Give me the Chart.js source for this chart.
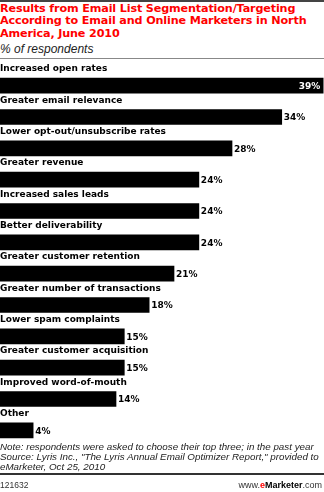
<!DOCTYPE html>
<html>
<head>
<meta charset="utf-8">
<script src="https://cdn.jsdelivr.net/npm/chart.js@4"></script>
<style>
    body { margin: 0; width: 324px; height: 492px; position: relative; background: #fff; overflow: hidden; }
    .topline { position: absolute; left: 0; top: 0; width: 324px; height: 2px; background: #444; }
    .title { position: absolute; left: 0; top: 3px; width: 324px; color: #f00; font: bold 11.2px "DejaVu Sans", sans-serif; line-height: 12.3px; letter-spacing: -0.15px; }
    .subtitle { position: absolute; left: 0; top: 42px; font: italic 12px "Liberation Sans", Arial, sans-serif; color: #222; }
    .rule { position: absolute; left: 0; top: 58px; width: 324px; height: 1px; background: #888; }
    #chartBox { position: absolute; left: 0; top: 60px; width: 324px; height: 386px; }
    .note { position: absolute; left: 0; top: 442px; width: 324px; font: italic 9.8px "Liberation Sans", Arial, sans-serif; line-height: 10px; color: #222; }
    .bottomrule { position: absolute; left: 0; top: 473px; width: 324px; height: 2px; background: #333; }
    .footer { position: absolute; top: 480px; font: 8.5px "Liberation Sans", Arial, sans-serif; color: #333; }
    .footer.right { right: 2px; font-size: 9px; }
    .footer b { font-weight: bold; color: #000; }
    .footer .e { color: #f00; }
</style>
</head>
<body>
<div class="topline"></div>
<div class="title">Results from Email List Segmentation/Targeting According to Email and Online Marketers in North America, June 2010</div>
<div class="subtitle">% of respondents</div>
<div class="rule"></div>
<div id="chartBox"><canvas id="resultsChart"></canvas></div>
<div class="note">Note: respondents were asked to choose their top three; in the past year<br>Source: Lyris Inc., "The Lyris Annual Email Optimizer Report," provided to<br>eMarketer, Oct 25, 2010</div>
<div class="bottomrule"></div>
<div class="footer" style="left:0">121632</div>
<div class="footer right">www.<b class="e">e</b><b>Marketer</b>.com</div>

<script>
    let categories = [
        'Increased open rates',
        'Greater email relevance',
        'Lower opt-out/unsubscribe rates',
        'Greater revenue',
        'Increased sales leads',
        'Better deliverability',
        'Greater customer retention',
        'Greater number of transactions',
        'Lower spam complaints',
        'Greater customer acquisition',
        'Improved word-of-mouth',
        'Other'
    ];
    let percentValues = [39, 34, 28, 24, 24, 24, 21, 18, 15, 15, 14, 4];
    let valueLabels = ['39%', '34%', '28%', '24%', '24%', '24%', '21%', '18%', '15%', '15%', '14%', '4%'];

    // category names sit above each bar, values at bar ends
    let barLabels = {
        id: 'barLabels',
        afterDatasetsDraw: function(chart) {
            let ctx = chart.ctx;
            let meta = chart.getDatasetMeta(0);
            ctx.save();
            meta.data.forEach(function(bar, i) {
                let top = bar.y - bar.height / 2;
                ctx.fillStyle = '#000';
                ctx.font = 'bold 9px "DejaVu Sans", sans-serif';
                ctx.textAlign = 'left';
                ctx.textBaseline = 'alphabetic';
                ctx.fillText(categories[i], 0, top - 7);

                ctx.textBaseline = 'middle';
                if (i === 0) {
                    ctx.fillStyle = '#fff';
                    ctx.textAlign = 'right';
                    ctx.fillText(valueLabels[i], bar.x - 3, bar.y + 1);
                } else {
                    ctx.fillStyle = '#000';
                    ctx.textAlign = 'left';
                    ctx.fillText(valueLabels[i], bar.x + 2, bar.y + 1);
                }
            });
            ctx.restore();
        }
    };

    let ctx = document.getElementById('resultsChart').getContext('2d');
    let resultsChart = new Chart(ctx, {
        type: 'bar',
        data: {
            labels: categories,
            datasets: [{
                data: percentValues,
                backgroundColor: '#000',
                borderWidth: 0,
                barThickness: 15
            }]
        },
        options: {
            indexAxis: 'y',
            responsive: true,
            maintainAspectRatio: false,
            animation: false,
            layout: { padding: { top: 10, bottom: 0, left: 0, right: 0 } },
            plugins: {
                legend: { display: false },
                tooltip: { enabled: false }
            },
            scales: {
                x: { display: false, min: 0, max: 39.1 },
                y: { display: false }
            }
        },
        plugins: [barLabels]
    });
</script>
</body>
</html>
